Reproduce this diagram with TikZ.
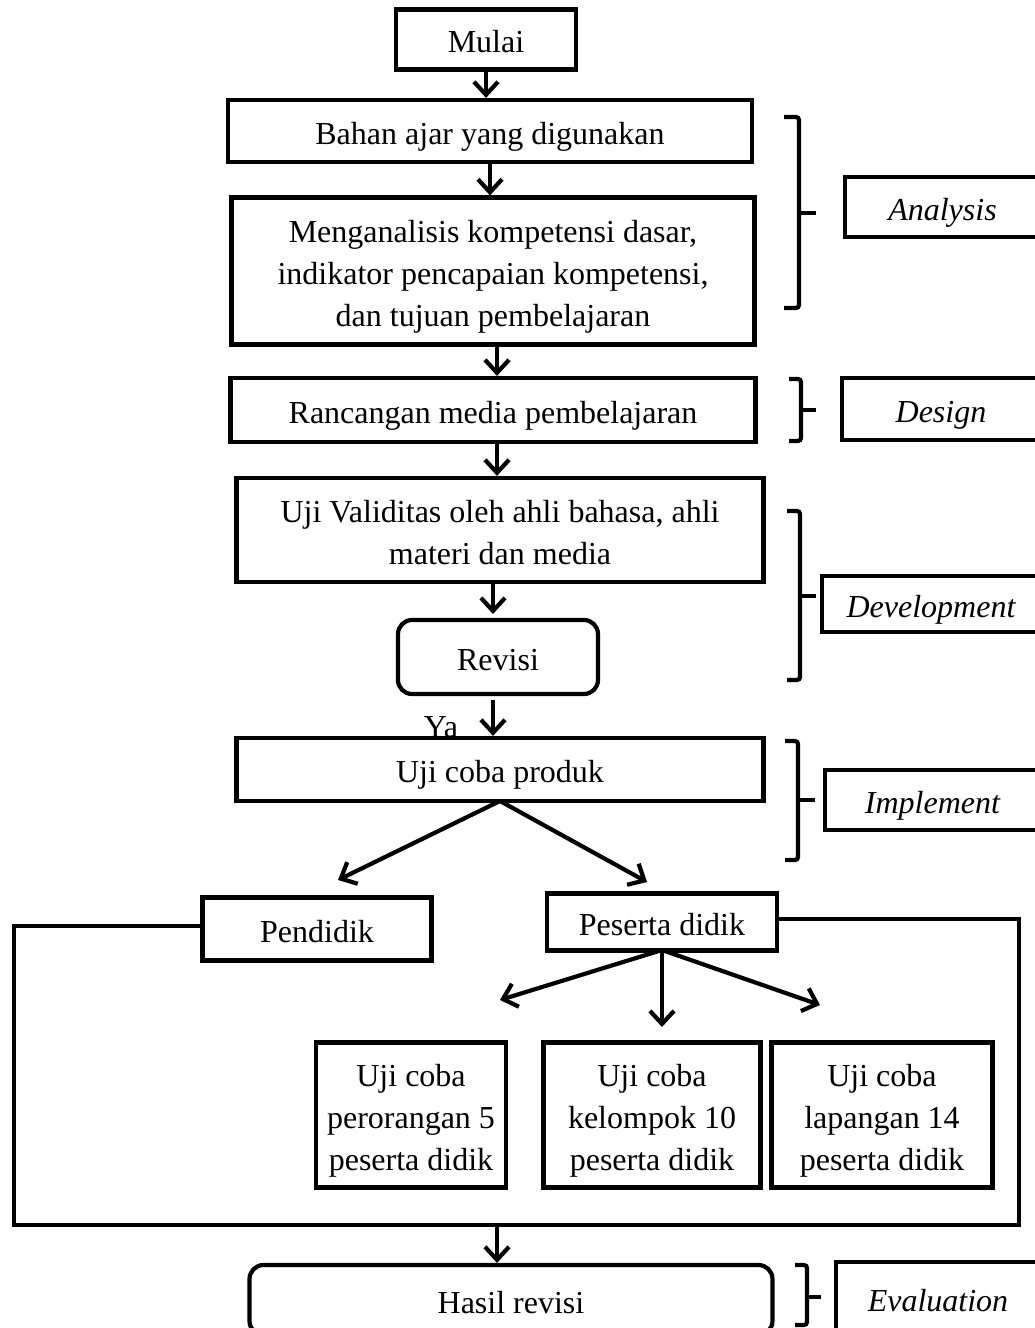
\documentclass[tikz,border=0pt]{standalone}
\usepackage{fontspec}
\setmainfont{Liberation Serif}
\usetikzlibrary{arrows.meta}
\newcommand\T[1]{\raisebox{-5pt}[\height][\depth]{\begin{tabular}{@{}c@{}}#1\end{tabular}}}
\begin{document}
\begin{tikzpicture}[x=1pt,y=-1pt,
  every node/.style={font=\fontsize{32}{42}\selectfont, inner sep=0pt, align=center},
  box/.style={draw, line width=4.2pt},
  rbox/.style={draw, line width=4.2pt, rounded corners=14pt},
  tag/.style={draw, line width=4.2pt, font=\fontsize{32}{42}\selectfont\itshape},
  arr/.style={line width=4.2pt, -{Straight Barb[length=13pt,width=24pt,line width=4.2pt]}},
  brk/.style={line width=4.2pt, rounded corners=3pt},
  conn/.style={line width=4.2pt, line join=miter}
]
\clip (0,0) rectangle (1035,1328);
\fill[white] (0,0) rectangle (1035,1328);

% main flow
\node[box, minimum width=180pt, minimum height=60pt] (mulai) at (486,39.5) {\T{Mulai}};
\node[box, minimum width=524pt, minimum height=62pt] (bahan) at (490,131) {\T{Bahan ajar yang digunakan}};
\node[box, minimum width=523pt, minimum height=147pt] (anal) at (493,271) {\T{Menganalisis kompetensi dasar,\\ indikator pencapaian kompetensi,\\ dan tujuan pembelajaran}};
\node[box, minimum width=525pt, minimum height=64pt] (ranc) at (493,410) {\T{Rancangan media pembelajaran}};
\node[box, minimum width=527pt, minimum height=104pt] (valid) at (500,530) {\T{Uji Validitas oleh ahli bahasa, ahli\\ materi dan media}};
\node[rbox, minimum width=200pt, minimum height=74pt] (rev) at (498,657) {\T{Revisi}};
\node[box, minimum width=527pt, minimum height=63pt] (prod) at (500,769.5) {\T{Uji coba produk}};
\node (ya) at (441,724) {\T{Ya}};

\node[box, minimum width=229pt, minimum height=63pt] (pend) at (317,929) {\T{Pendidik}};
\node[box, minimum width=230pt, minimum height=57pt] (pes) at (662,922) {\T{Peserta didik}};

\node[box, minimum width=190pt, minimum height=145pt] (u1) at (411,1115) {\T{Uji coba\\ perorangan 5\\ peserta didik}};
\node[box, minimum width=217pt, minimum height=145pt] (u2) at (652,1115) {\T{Uji coba\\ kelompok 10\\ peserta didik}};
\node[box, minimum width=221pt, minimum height=145pt] (u3) at (882,1115) {\T{Uji coba\\ lapangan 14\\ peserta didik}};

\node[rbox, minimum width=523pt, minimum height=70pt] (hasil) at (511,1300) {\T{Hasil revisi}};

% arrows main
\draw[arr] (mulai.south) -- (mulai.south |- bahan.north);
\draw[arr] (bahan.south) -- (bahan.south |- anal.north);
\coordinate (a3) at (497,345);
\draw[arr] (a3) -- (a3 |- ranc.north);
\coordinate (a4) at (497,442);
\draw[arr] (a4) -- (a4 |- valid.north);
\coordinate (a5) at (493,582);
\draw[arr] (a5) -- (493,614);
\coordinate (a6) at (493,700);
\draw[arr] (a6) -- (a6 |- prod.north);

% branches
\coordinate (pb) at (500,801);
\coordinate (pl) at (338,880);
\coordinate (pr) at (647,882);
\draw[arr] (pb) -- (pl);
\draw[arr] (pb) -- (pr);

\coordinate (qb) at (662,950);
\coordinate (q1) at (500,1000);
\coordinate (q2) at (662,1027);
\coordinate (q3) at (820,1005);
\draw[arr] (qb) -- (q1);
\draw[arr] (qb) -- (q2);
\draw[arr] (qb) -- (q3);

% loop
\coordinate (lL) at (14,1225);
\coordinate (lR) at (1019,1225);
\coordinate (lM) at (497,1225);
\draw[conn] ([yshift=3pt]pend.west) -| (lL) -- (lR) |- ([yshift=3pt]pes.east);
\draw[arr] (lM) -- (lM |- hasil.north);

% brackets
\draw[brk] (784,117) -- (799,117) -- (799,308) -- (784,308);
\draw[line width=4.2pt] (799,213) -- (816,213);
\draw[brk] (789,379) -- (801,379) -- (801,441) -- (789,441);
\draw[line width=4.2pt] (801,410) -- (816,410);
\draw[brk] (787,511) -- (800,511) -- (800,680) -- (787,680);
\draw[line width=4.2pt] (800,596) -- (816,596);
\draw[brk] (785,741) -- (798,741) -- (798,860) -- (785,860);
\draw[line width=4.2pt] (798,800) -- (815,800);
\draw[brk] (795,1265) -- (807,1265) -- (807,1325) -- (795,1325);
\draw[line width=4.2pt] (807,1297) -- (821,1297);

% tags
\node[tag, minimum width=195pt, minimum height=60pt] (tA) at (942.5,207) {\T{Analysis}};
\node[tag, minimum width=198pt, minimum height=62pt] (tD) at (941,409) {\T{Design}};
\node[tag, minimum width=218pt, minimum height=56pt] (tV) at (931,604) {\T{Development}};
\node[tag, minimum width=215pt, minimum height=60pt] (tI) at (932.5,800) {\T{Implement}};
\node[tag, minimum width=204pt, minimum height=72pt] (tE) at (938,1298) {\T{Evaluation}};
\end{tikzpicture}
\end{document}
